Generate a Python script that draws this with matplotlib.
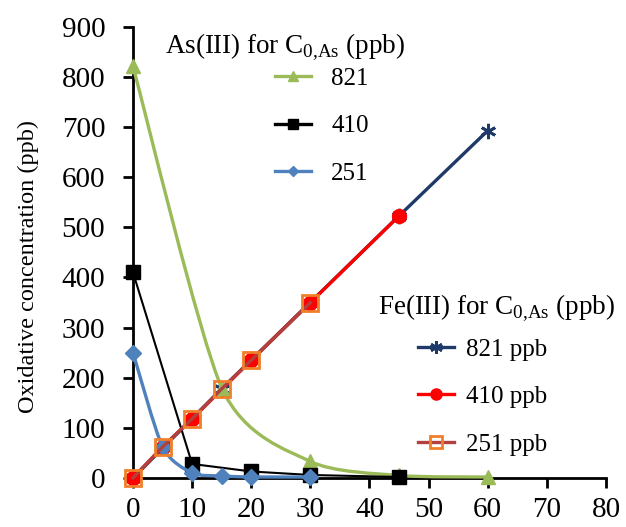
import numpy as np
import matplotlib
matplotlib.use("Agg")
import matplotlib.pyplot as plt
from matplotlib.path import Path
from matplotlib.patches import PathPatch
from matplotlib.lines import Line2D

plt.rcParams["font.family"] = ["Liberation Serif", "DejaVu Serif"]
plt.rcParams["mathtext.fontset"] = "custom"
plt.rcParams["mathtext.rm"] = "Liberation Serif"

# As(III) remaining, time in min
as821_t = [0, 15, 30, 45, 60]
as821_c = [821, 180, 33, 5, 2]
as410_t = [0, 10, 20, 30, 45]
as410_c = [410, 28, 13, 6, 2]
as251_t = [0, 5, 10, 15, 20, 30]
as251_c = [250, 62, 10, 4, 2, 2]

# Fe(III) formed
fe821_t = [0, 15, 45, 60]
fe821_c = [0, 178, 523, 693]
fe410_t = [0, 5, 10, 20, 30, 45]
fe410_c = [0, 62, 118, 235, 350, 523]
fe251_t = [0, 5, 10, 15, 20, 30]
fe251_c = [0, 62, 118, 178, 235, 350]

C_GREEN = "#9BBB59"
C_BLUE = "#4F81BD"
C_NAVY = "#1F3A68"
C_RED = "#FF0000"
C_BROWN = "#B0413E"
C_ORANGE = "#F07F2A"


def smooth_line(ax, x, y, color, lw, z, k=8):
    # smoothed line like Excel (cardinal spline drawn as cubic Bezier)
    p = np.column_stack([x, y]).astype(float)
    n = len(p)
    verts = [p[0]]
    codes = [Path.MOVETO]
    for i in range(n - 1):
        p0 = p[i - 1] if i > 0 else p[i]
        p3 = p[i + 2] if i + 2 < n else p[i + 1]
        c1 = p[i] + (p[i + 1] - p0) / k
        c2 = p[i + 1] - (p3 - p[i]) / k
        verts += [c1, c2, p[i + 1]]
        codes += [Path.CURVE4] * 3
    ax.add_patch(PathPatch(Path(verts, codes), fc="none", ec=color, lw=lw,
                           zorder=z, clip_on=False, capstyle="round"))


fig, ax = plt.subplots(figsize=(6.26, 5.27), dpi=100)
fig.subplots_adjust(left=0.2125, right=0.968, bottom=0.093, top=0.949)

# Fe(III) series
ax.plot(fe821_t, fe821_c, color=C_NAVY, lw=2.4, marker=(6, 2, 0), ms=11,
        mew=2, mec=C_NAVY, zorder=3, clip_on=False)
ax.plot(fe410_t, fe410_c, color=C_RED, lw=2.4, marker="o", ms=10,
        mec=C_RED, mfc=C_RED, zorder=4, clip_on=False)

# As(III) series
smooth_line(ax, as821_t, as821_c, C_GREEN, 2.4, 5)
ax.plot(as821_t, as821_c, ls="none", marker="^", ms=10, color=C_GREEN,
        zorder=5, clip_on=False)
ax.plot(as410_t, as410_c, color="black", lw=1.5, marker="s", ms=10,
        zorder=5, clip_on=False)
smooth_line(ax, as251_t, as251_c, C_BLUE, 2.4, 5)
ax.plot(as251_t, as251_c, ls="none", marker="D", ms=8, color=C_BLUE,
        zorder=5, clip_on=False)

ax.plot(fe251_t, fe251_c, color=C_BROWN, lw=2.4, marker="s", ms=12,
        mfc="none", mec=C_ORANGE, mew=2, zorder=6, clip_on=False)

ax.set_xlim(0, 80)
ax.set_ylim(0, 900)
ax.set_xticks(np.arange(0, 81, 10))
ax.set_yticks(np.arange(0, 901, 100))
for s in ["top", "right"]:
    ax.spines[s].set_visible(False)
for s in ["left", "bottom"]:
    ax.spines[s].set_linewidth(2)
ax.tick_params(direction="out", length=7, width=2, labelsize=21)
ax.tick_params(axis="x", pad=7)
ax.tick_params(axis="y", pad=13)
ax.set_ylabel("Oxidative concentration (ppb)", fontsize=17.5)
ax.yaxis.set_label_coords(-0.198, 0.468)

# legends
sub = r"C$_{\mathrm{0{,}As}}$"
ax.text(0.068, 0.956, "As(III) for " + sub + " (ppb)", transform=ax.transAxes,
        fontsize=19.5, va="center", ha="left")
as_handles = [
    Line2D([], [], color=C_GREEN, lw=2.4, marker="^", ms=7),
    Line2D([], [], color="black", lw=2.4, marker="s", ms=7),
    Line2D([], [], color=C_BLUE, lw=2.4, marker="D", ms=5),
]
leg1 = ax.legend(as_handles, ["821", "410", "251"], loc="upper left",
                 bbox_to_anchor=(0.30, 0.91), frameon=False, fontsize=18,
                 handlelength=1.45, handletextpad=0.8, labelspacing=1.0,
                 borderpad=0, borderaxespad=0)
ax.add_artist(leg1)

ax.text(0.518, 0.377, "Fe(III) for " + sub + " (ppb)", transform=ax.transAxes,
        fontsize=19.5, va="center", ha="left")
fe_handles = [
    Line2D([], [], color=C_NAVY, lw=2.4, marker=(6, 2, 0), ms=9, mew=2),
    Line2D([], [], color=C_RED, lw=2.4, marker="o", ms=8),
    Line2D([], [], color=C_BROWN, lw=2.4, marker="s", ms=9, mfc="none",
           mec=C_ORANGE, mew=2),
]
ax.legend(fe_handles, ["821 ppb", "410 ppb", "251 ppb"], loc="upper left",
          bbox_to_anchor=(0.603, 0.31), frameon=False, fontsize=18,
          handlelength=1.45, handletextpad=0.45, labelspacing=1.0,
          borderpad=0, borderaxespad=0)

fig.savefig("out.png", dpi=100)
